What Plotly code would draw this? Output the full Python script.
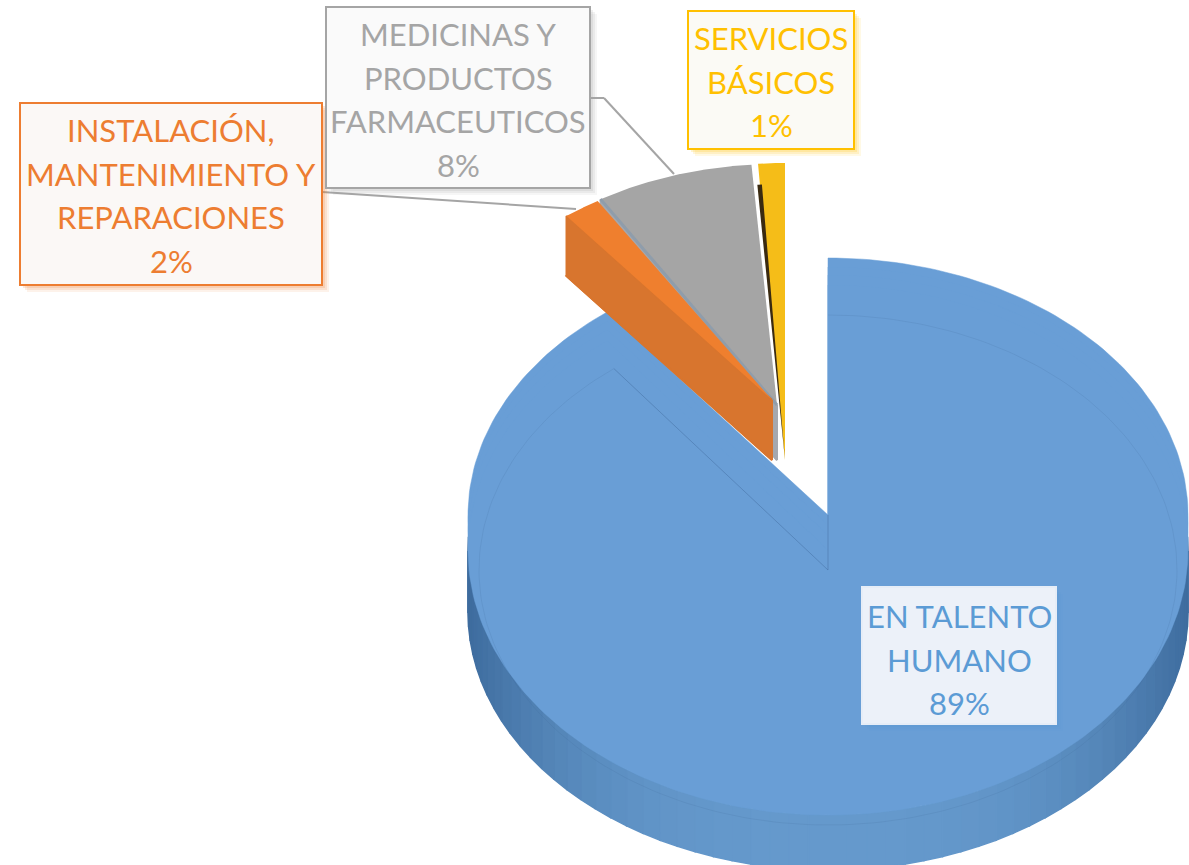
import numpy as np
import plotly.graph_objects as go

# ---- data ----
categories = [["EN TALENTO", "HUMANO"], ["INSTALACIÓN,", "MANTENIMIENTO Y", "REPARACIONES"],
              ["MEDICINAS Y", "PRODUCTOS", "FARMACEUTICOS"], ["SERVICIOS", "BÁSICOS"]]
values = [89.49, 1.8, 7.51, 1.2]
pct_labels = ["89%", "2%", "8%", "1%"]

# ---- styles / layout ----
W, H = 1189, 865
FONT = "Lato"
TOP_COL = ["#699ed6", "#ef7f2e", "#a5a5a5", "#f5bd18"]
SIDE_COL = ["#5a8ec5", "#d8752e", "#a5a8ae", "#3a2a10"]
TEXT_COL = ["#5b9bd5", "#ed7d31", "#a5a5a5", "#ffc000"]
BOX_FILL = ["#ecf1f9", "#fbf8f6", "#fafafa", "#fbfaf5"]
BOX_LINE = ["#e6edf7", "#ed7d31", "#a5a5a5", "#ffc000"]
BOX = [(862, 587, 1056, 724), (20, 103, 322, 285), (326, 7, 590, 188), (688, 11, 854, 149)]
LINE_Y0 = [616, 130, 34, 38]
LINE_GAP = 43.5
# apex x, apex y, radius x, radius y, depth of each pulled slice
PULLED = {1: (772, 400, 335, 233, 60), 2: (777, 405, 339, 241, 55), 3: (785, 460, 358, 297, 0)}

total = sum(values)
edges = np.concatenate([[0], np.cumsum(values)]) / total * 2 * np.pi


def arc(cx, cy, rx, ry, a0, a1, n=240):
    t = np.linspace(a0, a1, n)
    return cx + rx * np.sin(t), cy - ry * np.cos(t)


def wedge(cx, cy, rx, ry, a0, a1):
    x, y = arc(cx, cy, rx, ry, a0, a1)
    return np.r_[cx, x, cx], np.r_[cy, y, cy]


fig = go.Figure()


def poly(x, y, color, lw=0):
    fig.add_trace(go.Scatter(x=x, y=y, mode="lines", fill="toself", fillcolor=color,
                             line=dict(width=lw, color=color), hoverinfo="skip", showlegend=False))


def stroke(x, y, color, width=1):
    fig.add_trace(go.Scatter(x=x, y=y, mode="lines", line=dict(width=width, color=color),
                             hoverinfo="skip", showlegend=False))


# --- big slice: side band, shaded by segments ---
a0, a1 = edges[0], edges[1]
CX, RX = 828, 360
seg = np.linspace(np.pi / 2 - 0.05, 3 * np.pi / 2 + 0.05, 61)
for s0, s1 in zip(seg[:-1], seg[1:]):
    tx, ty = arc(CX, 550, RX, 265, s0, s1, 6)
    bx, by = arc(CX, 612, RX, 258, s1, s0, 6)
    k = abs(np.sin((s0 + s1) / 2)) ** 3
    c = [int(round(p + (q - p) * k)) for p, q in zip((101, 153, 204), (62, 108, 158))]
    col = f"rgb({c[0]},{c[1]},{c[2]})"
    poly(np.r_[tx, bx, tx[0]], np.r_[ty, by, ty[0]], col, lw=1.5)

# --- big slice: top ---
for cy, ry in ((515, 257), (525, 258), (535, 260), (550, 265)):
    x, y = wedge(CX, cy, RX, ry, a0, a1)
    poly(x, y, TOP_COL[0], lw=0.5)
# fold and bevel lines
FOLD = "rgba(60,100,150,0.40)"
ix, iy = arc(CX, 570, 349, 255, a0, a1)
stroke(ix, iy, "rgba(60,100,150,0.15)")
stroke([CX, CX], [515, 570], FOLD)
stroke([CX, ix[-1]], [570, iy[-1]], FOLD)

# --- pulled slices, back to front ---
for i in (2, 1):
    ax, ay, rx, ry, depth = PULLED[i]
    x, y = wedge(ax, ay + depth, rx, ry, edges[i], edges[i + 1])
    poly(x, y, SIDE_COL[i], lw=2)
    ox, oy = arc(ax, ay, rx, ry, edges[i], edges[i], 1)
    poly([ax, ax, ox[0], ox[0], ax], [ay, ay + depth, oy[0] + depth, oy[0], ay], SIDE_COL[i], lw=2)
    x, y = wedge(ax, ay, rx, ry, edges[i], edges[i + 1])
    poly(x, y, TOP_COL[i])
    if i == 2:
        stroke([ax, ox[0]], [ay, oy[0]], "#8f9dab", 3)

ax, ay, rx, ry, depth = PULLED[3]
x, y = wedge(ax, ay, rx, ry, edges[3], edges[4])
poly(x, y, TOP_COL[3])
x, y = wedge(ax, ay, rx * 0.93, ry * 0.93, edges[3] - 0.008, edges[3] + 0.006)
poly(x, y, SIDE_COL[3])

# --- label boxes ---
shapes = [
    dict(type="line", x0=590, y0=98, x1=604, y1=98, line=dict(color="#a5a5a5", width=2)),
    dict(type="line", x0=604, y0=98, x1=674, y1=174, line=dict(color="#a5a5a5", width=2)),
    dict(type="line", x0=322, y0=192, x1=576, y1=209, line=dict(color="#a5a5a5", width=2)),
]
annotations = []
for i, (x0, y0, x1, y1) in enumerate(BOX):
    for off, alpha in ((7, 0.10), (5, 0.14), (3, 0.18)):
        shapes.append(dict(type="rect", x0=x0 + off, y0=y0 + off, x1=x1 + off, y1=y1 + off,
                           fillcolor=TEXT_COL[i], opacity=alpha, line=dict(width=0)))
    shapes.append(dict(type="rect", x0=x0, y0=y0, x1=x1, y1=y1, fillcolor=BOX_FILL[i],
                       line=dict(color=BOX_LINE[i], width=2)))
    for k, line in enumerate(categories[i] + [pct_labels[i]]):
        annotations.append(dict(x=(x0 + x1) / 2, y=LINE_Y0[i] + k * LINE_GAP, xref="x", yref="y",
                                showarrow=False, text=line, align="center",
                                font=dict(family=FONT, size=31, color=TEXT_COL[i])))

fig.update_layout(
    width=W, height=H, margin=dict(l=0, r=0, t=0, b=0), autosize=False,
    paper_bgcolor="white", plot_bgcolor="white", showlegend=False,
    xaxis=dict(range=[0, W], visible=False, fixedrange=True),
    yaxis=dict(range=[H, 0], visible=False, fixedrange=True),
    shapes=shapes, annotations=annotations,
)
fig.write_html("out.html", post_script="document.body.style.margin='0';", config={"displayModeBar": False})
